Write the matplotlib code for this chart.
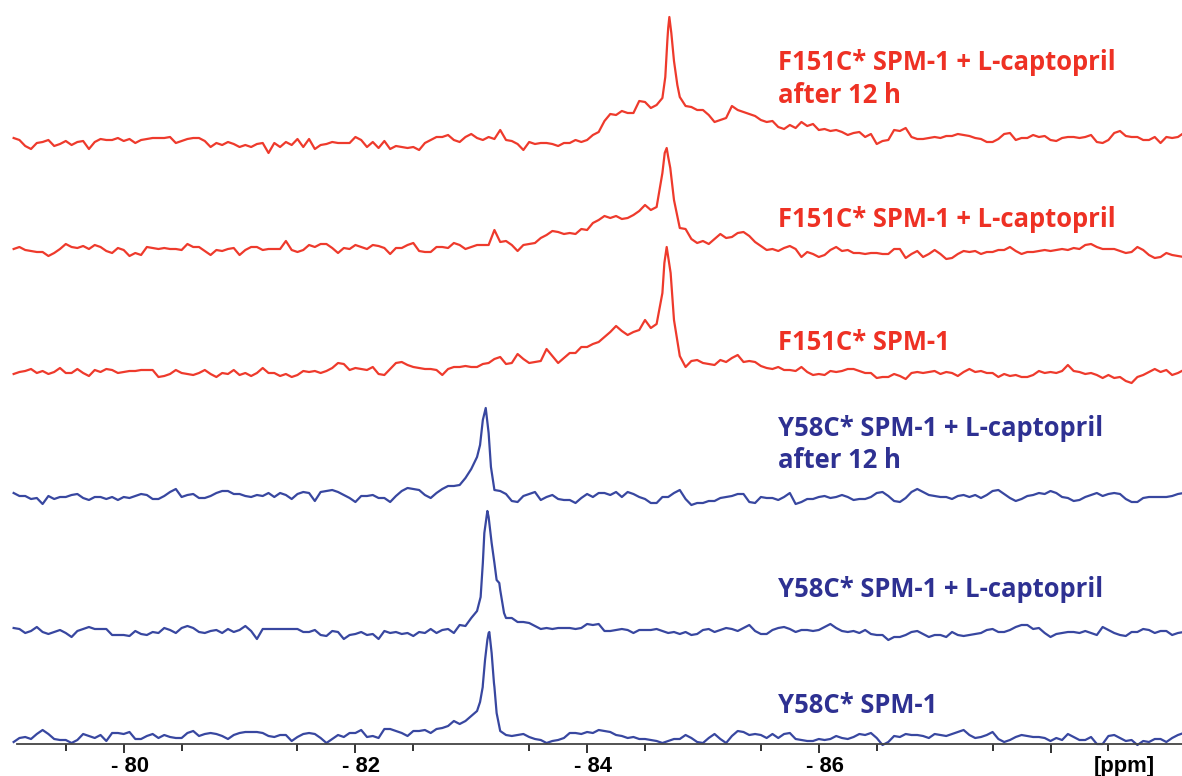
import numpy as np
import matplotlib
matplotlib.use("Agg")
import matplotlib.pyplot as plt
from matplotlib import transforms

# ---------------- data ----------------
# chemical-shift axis of the digitised spectra (ppm), 0.05 ppm resolution
ppm_axis = np.linspace(-79.05, -89.15, 203)

# intensities (arbitrary units), one value per ppm_axis point
f151_after12h = [
    7, 5, -1, -4, 2, 3, 5, -1, 1, 4,
    0, 3, 4, -4, 3, 6, 5, 5, 7, 4,
    6, 2, 5, 6, 7, 7, 7, 8, 2, 4,
    6, 7, 7, 4, -2, 2, 0, 3, 1, -2,
    0, -2, 1, 2, -8, 2, -2, 3, 0, 6,
    -2, 6, -4, 0, 1, 3, 2, 2, 2, 8,
    5, -2, 3, -3, 4, -4, -1, -2, -3, -2,
    -5, 2, 5, 8, 8, 10, 5, 3, 8, 11,
    7, 5, 8, 6, 15, 5, 4, 1, -5, 3,
    1, 2, 2, 1, -1, 2, 2, 5, 3, 5,
    10, 13, 24, 31, 30, 34, 32, 32, 44, 43,
    37, 40, 47, 117, 84, 48, 39, 38, 35, 35,
    30, 23, 25, 27, 39, 35, 33, 31, 29, 25,
    23, 24, 18, 16, 20, 17, 23, 19, 21, 15,
    16, 14, 15, 13, 10, 12, 13, 8, 11, 1,
    4, 5, 15, 14, 17, 8, 6, 6, 7, 8,
    7, 9, 9, 11, 10, 9, 7, 6, 3, 3,
    6, 11, 12, 5, 7, 7, 10, 8, 9, 5,
    4, 7, 8, 8, 7, 8, 10, 3, 2, 5,
    12, 14, 9, 8, 8, 5, 5, 8, 2, 8,
    7, 8, 12]
f151_capto = [
    1, 3, 0, -1, -2, -2, -6, -3, 1, 6,
    3, 2, 4, 1, 5, 3, -1, -3, 2, 0,
    -6, -3, -5, 3, 2, 1, 2, 1, 1, 0,
    6, 3, 3, -1, -5, 0, -1, 1, 2, -5,
    0, 3, 3, 0, 1, 1, 1, 9, 0, -2,
    0, 5, 3, 6, 6, 2, -3, 2, 1, 5,
    3, 1, 5, 4, 2, -4, 2, 2, 5, 7,
    -1, -2, -2, 3, 3, 2, 7, 5, 1, 3,
    5, 5, 5, 20, 8, 9, 5, -1, 5, 6,
    7, 12, 15, 19, 18, 16, 17, 16, 21, 20,
    27, 30, 34, 32, 34, 31, 32, 35, 39, 45,
    40, 43, 77, 93, 50, 22, 21, 11, 7, 9,
    6, 11, 16, 12, 13, 17, 18, 14, 8, 4,
    0, 1, -1, 2, 4, 1, -7, -2, -4, -7,
    -5, 0, 3, -1, 0, -3, -3, -4, -3, -3,
    -4, -4, 1, 1, -8, -4, -1, -7, -4, 0,
    -4, -9, -8, -4, -1, -2, -1, -4, -2, -2,
    0, 0, 3, -1, -4, -2, -2, -1, 0, -1,
    0, 1, 0, 2, 1, 5, 6, 3, 1, 1,
    1, -1, -3, -2, 3, 0, -5, -8, -7, -3,
    -5, -6, -7]
f151 = [
    1, 3, 4, 6, 2, 4, 1, 3, 7, 2,
    2, 6, 2, -1, 5, 3, 6, 5, 2, 3,
    4, 4, 5, 5, 5, -2, -1, 1, 5, 2,
    1, 0, 2, 5, 1, -2, 2, 1, 5, 0,
    2, -1, 2, 7, 2, 2, -1, 1, -2, 0,
    4, 3, 4, 2, 4, 7, 12, 11, 5, 7,
    6, 5, 8, 1, 0, 6, 12, 13, 10, 8,
    7, 6, 6, 5, 0, 6, 8, 8, 9, 8,
    8, 11, 12, 16, 18, 11, 12, 21, 16, 12,
    13, 14, 26, 19, 12, 17, 22, 22, 28, 28,
    31, 33, 38, 43, 49, 44, 40, 43, 45, 55,
    47, 51, 82, 118, 55, 19, 8, 14, 15, 12,
    11, 10, 15, 13, 17, 20, 13, 14, 13, 9,
    7, 6, 8, 5, 5, 4, 8, 3, 0, 1,
    0, 4, 3, 4, 6, 6, 4, 2, 2, -3,
    -2, -2, 1, -1, -4, 2, 3, 2, 3, 4,
    1, 3, 2, -1, 3, 6, 3, 4, 2, 2,
    -2, 1, -1, 0, -2, -2, 0, 4, 2, 3,
    2, 4, 10, 4, 3, 1, 2, 0, -3, 0,
    -3, -2, -6, -8, -2, 0, 3, 6, 3, 5,
    0, 2, 5]
y58_after12h = [
    2, -1, -1, -4, -3, -9, -1, -4, -2, -2,
    0, 1, -3, -5, -2, -2, -4, -2, -5, -2,
    -3, -1, 1, 0, -4, -4, -1, 3, 6, -2,
    0, 1, -3, -3, -1, 2, 4, 4, 1, 1,
    -1, -2, 0, -1, 2, -2, 2, 0, -4, 1,
    3, 2, -6, 3, 4, 5, 3, 0, -3, -7,
    -1, -1, 0, -3, -3, -7, -1, 4, 7, 6,
    5, 0, -3, 2, 6, 9, 9, 10, 17, 26,
    38, 75, 62, 5, 4, 1, -6, -7, -1, 1,
    3, -5, -2, 0, -4, -5, -5, -8, -3, 1,
    -2, 2, 2, 0, 3, -2, 3, 1, -2, -4,
    -8, -8, -2, -2, 2, 5, -4, -10, -8, -8,
    -6, -6, -3, -2, -1, 1, 1, -7, -8, -2,
    -3, -3, -5, -2, 2, -9, -7, -4, -4, -2,
    -1, -3, -2, 0, -2, -5, -4, -4, -2, 2,
    3, -1, -6, -7, -3, 3, 6, 3, 0, -1,
    -2, -2, -4, -1, 0, -2, 0, -3, 0, 4,
    5, 1, -3, -6, -4, -1, 0, 2, 1, 4,
    2, -2, -3, -6, -5, -2, 0, 2, -1, 1,
    2, 1, -4, -7, -7, -3, -2, -2, -2, -2,
    -1, 1, 2]
y58_capto = [
    2, 1, -3, -1, 3, -2, -4, -2, 0, -3,
    -7, -1, 1, 3, 1, 1, 1, -5, -5, -5,
    -6, -1, -4, -5, -2, -3, 2, 0, -3, 2,
    4, 2, -2, -3, -1, 0, -3, 1, -2, 0,
    4, -1, -9, 1, 1, 1, 1, 1, 1, 1,
    -2, -2, 0, -5, -6, -1, -2, -9, -5, -4,
    -2, -5, -4, -9, -1, -3, -2, -4, -3, -6,
    -2, -3, 1, -3, 0, 1, -3, 5, 4, 12,
    19, 67, 113, 67, 40, 12, 12, 8, 8, 7,
    4, 1, 2, 1, 2, 2, 2, 1, 2, 6,
    5, 6, -1, -1, 0, 1, 0, -3, 0, 0,
    0, 1, -1, -3, -2, -4, -2, -5, -4, 0,
    1, -2, 0, 2, 1, -1, 2, 5, -1, -4,
    -4, 0, 2, 3, 1, -2, 0, 0, -1, 0,
    3, 6, 2, -1, -2, -1, -3, 0, -4, -5,
    -5, -10, -7, -7, -5, -2, -1, -4, -7, -5,
    -5, -7, -2, -5, -6, -5, -4, -3, 0, 1,
    -2, -2, 0, 3, 5, 5, 1, 2, -3, -7,
    -4, -3, -2, -2, -3, -1, -3, -5, 3, 0,
    -3, -5, -6, -2, -2, 1, 0, -3, -1, -1,
    -5, -3, -2]
y58 = [
    -5, -1, 0, -2, 3, 7, 3, -2, -3, -3,
    -6, -3, 3, 1, -1, 2, -4, 4, 4, 3,
    5, -2, -2, 1, 3, -1, 2, 0, -1, -1,
    4, 6, 1, 3, 4, 3, 1, -2, 2, 4,
    5, 5, 5, 4, 1, 0, 2, 2, -4, 0,
    3, 4, 3, -1, -6, -2, 2, 0, 4, 4,
    7, 0, 1, -1, 8, 8, 6, 4, 1, 6,
    6, 7, 4, 8, 9, 11, 16, 13, 16, 21,
    26, 52, 104, 50, 6, 2, 1, 2, 3, 0,
    -2, -3, -6, -4, -3, -1, 4, 4, 3, 5,
    4, 7, 6, 5, 2, 1, -1, 0, -2, -2,
    -3, -4, -6, -4, -2, -2, 2, -1, -5, -6,
    -1, 3, -2, -6, 1, 6, 5, 2, 3, 2,
    -1, 3, -1, 3, 4, -2, -3, -4, -4, -2,
    -3, -2, 1, -1, -2, 0, 3, 2, 4, -1,
    -8, -5, 1, 0, 3, 2, 2, 1, -1, 3,
    2, 1, 3, 5, 7, 2, -1, 0, 2, 5,
    -2, -5, -3, 0, 2, 1, 0, 0, -1, -4,
    -1, -3, 3, 0, -3, -3, 0, -7, -7, 1,
    2, -1, -4, -3, -8, -4, -5, -2, -2, -5,
    -1, 2, 4]

# extra points read around each main resonance (ppm, intensity)
f151_after12h_peak_ppm = [-84.675, -84.693, -84.710, -84.727, -84.779]
f151_after12h_peak_int = [68, 105, 128, 112, 60]
f151_capto_peak_ppm = [-84.670, -84.687, -84.718]
f151_capto_peak_int = [97, 102, 82]
f151_peak_ppm = [-84.667, -84.687, -84.721]
f151_peak_int = [112, 128, 102]
y58_after12h_peak_ppm = [-83.076, -83.125, -83.170]
y58_after12h_peak_int = [50, 87, 28]
y58_capto_peak_ppm = [-83.081, -83.113, -83.139, -83.176, -83.219, -83.242, -83.283]
y58_capto_peak_int = [33, 97, 119, 87, 50, 47, 17]
y58_peak_ppm = [-83.076, -83.099, -83.119, -83.139, -83.156, -83.176, -83.196, -83.219]
y58_peak_int = [35, 50, 77, 97, 105, 84, 54, 24]

sample_labels = [
    ["F151C* SPM-1 + L-captopril", "after 12 h"],
    ["F151C* SPM-1 + L-captopril"],
    ["F151C* SPM-1"],
    ["Y58C* SPM-1 + L-captopril", "after 12 h"],
    ["Y58C* SPM-1 + L-captopril"],
    ["Y58C* SPM-1"],
]
tick_values = [-80, -82, -84, -86, -88]
tick_labels = ["- 80", "- 82", "- 84", "- 86", ""]
unit_label = "[ppm]"

# ---------------- style / layout ----------------
W, H = 1182, 776
RED_LINE, RED_TEXT = "#EE3A2C", "#EE3124"
BLUE_LINE, BLUE_TEXT = "#3847A0", "#2E3192"
stack_offsets = [599, 494, 369, 249, 114, 7]
label_baselines_px = [[70, 102.7], [226.7], [350], [435.5, 468.3], [597.3], [713.3]]
label_x_px = 778
TICK_FONT = 15.8

fig = plt.figure(figsize=(W / 100, H / 100), dpi=100)
ax = fig.add_axes([12 / W, 32 / H, 1170 / W, 744 / H])
x_left = -80 - (12 - 123.7) / 115.85
x_right = -80 - (1182 - 123.7) / 115.85
ax.set_xlim(x_left, x_right)
ax.set_ylim(0, 744)

traces = [
    (f151_after12h, f151_after12h_peak_ppm, f151_after12h_peak_int, RED_LINE),
    (f151_capto, f151_capto_peak_ppm, f151_capto_peak_int, RED_LINE),
    (f151, f151_peak_ppm, f151_peak_int, RED_LINE),
    (y58_after12h, y58_after12h_peak_ppm, y58_after12h_peak_int, BLUE_LINE),
    (y58_capto, y58_capto_peak_ppm, y58_capto_peak_int, BLUE_LINE),
    (y58, y58_peak_ppm, y58_peak_int, BLUE_LINE),
]
for (vals, pk_ppm, pk_int, col), off in zip(traces, stack_offsets):
    x = np.concatenate([ppm_axis, np.asarray(pk_ppm, float)])
    y = np.concatenate([np.asarray(vals, float), np.asarray(pk_int, float)])
    order = np.argsort(-x)
    ax.plot(x[order], y[order] + off, color=col, lw=1.6, clip_on=False,
            solid_joinstyle="round")

# axis styling
for s in ("top", "left", "right"):
    ax.spines[s].set_visible(False)
ax.spines["bottom"].set_color("#444444")
ax.spines["bottom"].set_linewidth(1.3)
ax.spines["bottom"].set_bounds(-80 - (17 - 123.7) / 115.85, x_right)
ax.set_yticks([])
ax.set_xticks(tick_values)
ax.set_xticklabels(tick_labels)
ax.set_xticks(np.arange(-79.5, -89.2, -1.0), minor=True)
ax.tick_params(axis="x", which="major", length=6.7, width=1.3, color="#222222",
               pad=1.6, labelsize=TICK_FONT)
ax.tick_params(axis="x", which="minor", length=4.8, width=1.3, color="#222222")
shift = transforms.ScaledTranslation(6 / 100, 0, fig.dpi_scale_trans)
for lab in ax.get_xticklabels():
    lab.set_fontfamily(["Liberation Sans", "DejaVu Sans"])
    lab.set_fontweight("bold")
    lab.set_fontsize(TICK_FONT)
    lab.set_transform(lab.get_transform() + shift)

ax.annotate(unit_label, xy=(-80 - (1124 - 123.7) / 115.85, 0),
            xycoords=("data", "axes fraction"), xytext=(0, -8.3),
            textcoords="offset points", ha="center", va="top",
            fontsize=TICK_FONT, fontweight="bold",
            family=["Liberation Sans", "DejaVu Sans"], color="black")

# fit sample-label font size to the reference label width
fig.canvas.draw()
renderer = fig.canvas.get_renderer()
probe = fig.text(0, 0, "F151C* SPM-1 + L-captopril", fontsize=20,
                 family="Open Sans", fontweight="bold")
w = probe.get_window_extent(renderer).width
probe.remove()
label_size = 20 * 338 / w

for i, (lines, bases) in enumerate(zip(sample_labels, label_baselines_px)):
    col = RED_TEXT if i < 3 else BLUE_TEXT
    for txt, b in zip(lines, bases):
        fig.text(label_x_px / W, 1 - b / H, txt, fontsize=label_size,
                 family="Open Sans", fontweight="bold", color=col,
                 ha="left", va="baseline")

fig.savefig("out.png", dpi=100)
